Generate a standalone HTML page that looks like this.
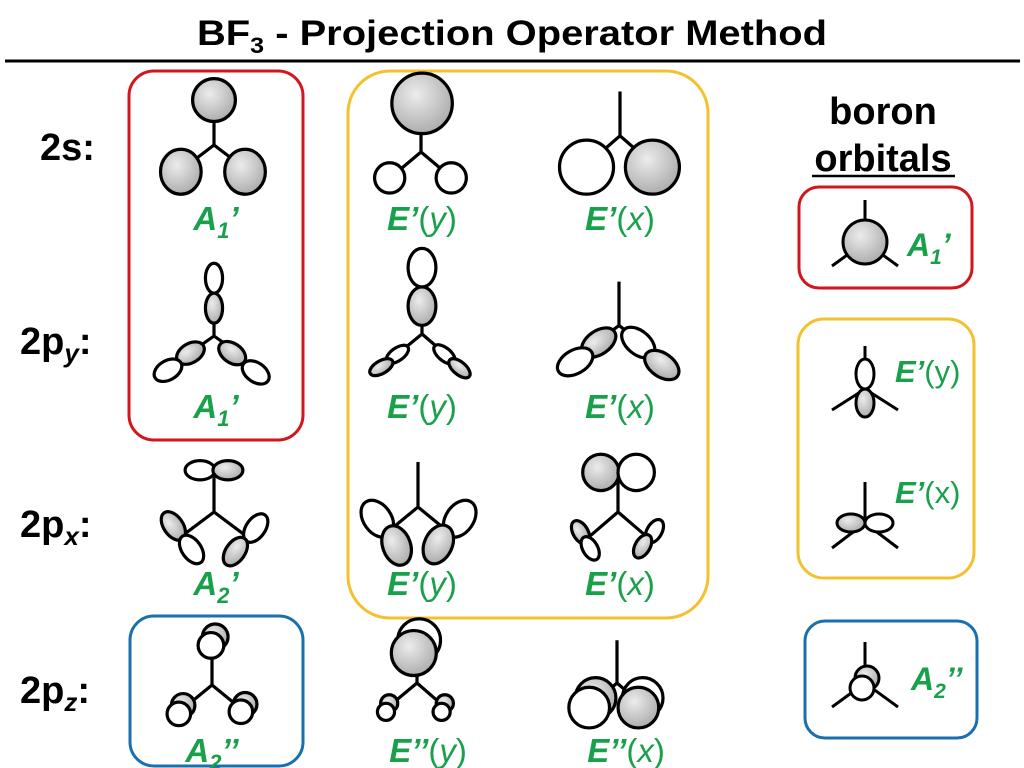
<!DOCTYPE html>
<html><head><meta charset="utf-8"><style>
html,body{margin:0;padding:0;background:#fff}
svg{display:block}
text{font-family:"Liberation Sans",Arial,sans-serif}
.g{fill:#19a04b;font-size:33px}
.b{font-weight:bold;font-style:italic}
.r{font-size:38px;font-weight:bold;fill:#000}
</style></head><body>
<svg width="1024" height="768" viewBox="0 0 1024 768" xmlns="http://www.w3.org/2000/svg">
<defs>
<radialGradient id="gr" cx="40%" cy="35%" r="70%">
<stop offset="0" stop-color="#ececec"/><stop offset="1" stop-color="#a9a9a9"/>
</radialGradient>
</defs>
<rect width="1024" height="768" fill="#fff"/>
<text x="512" y="45" text-anchor="middle" font-size="35" font-weight="bold" textLength="630" lengthAdjust="spacingAndGlyphs">BF<tspan font-size="22" dy="8">3</tspan><tspan dy="-8"> - Projection Operator Method</tspan></text>
<line x1="5" y1="61" x2="1020" y2="61" stroke="#000" stroke-width="3"/>

<text class="r" x="40" y="160">2s:</text>
<text class="r" x="20" y="354">2p<tspan font-style="italic" font-size="26" dy="8">y</tspan><tspan dy="-8">:</tspan></text>
<text class="r" x="20" y="537">2p<tspan font-style="italic" font-size="26" dy="8">x</tspan><tspan dy="-8">:</tspan></text>
<text class="r" x="20" y="703">2p<tspan font-style="italic" font-size="26" dy="8">z</tspan><tspan dy="-8">:</tspan></text>
<text class="r" x="883" y="124" text-anchor="middle">boron</text>
<text class="r" x="883" y="171" text-anchor="middle">orbitals</text>
<line x1="812" y1="176" x2="955" y2="176" stroke="#000" stroke-width="2.5"/>

<g fill="none" stroke-width="3">
<rect x="129" y="71" width="174" height="369" rx="25" stroke="#d3161e"/>
<rect x="348" y="71" width="360" height="547" rx="42" stroke="#f2c12e"/>
<rect x="130" y="616" width="173" height="150" rx="24" stroke="#1a6fae"/>
<rect x="799" y="187" width="173" height="101" rx="20" stroke="#d3161e"/>
<rect x="798" y="319" width="176" height="259" rx="26" stroke="#f2c12e"/>
<rect x="805" y="621" width="172" height="117" rx="20" stroke="#1a6fae"/>
</g>

<g stroke="#000" stroke-width="3" fill="none">
<!-- 2s A1' -->
<g transform="translate(9,0) translate(205,145) scale(1.07) translate(-205,-145)">
<path d="M205 145V122M205 145L188 158M205 145L222 158"/>
<circle cx="205" cy="103" r="20" fill="url(#gr)"/>
<ellipse cx="174" cy="170" rx="19" ry="21" fill="url(#gr)"/>
<ellipse cx="234" cy="170" rx="19" ry="21" fill="url(#gr)"/>
</g>
<!-- 2s E'(y) -->
<g transform="translate(30,0) translate(391,152) scale(1.08) translate(-391,-152)">
<path d="M391 152V135M391 152L372 168M391 152L410 168"/>
<circle cx="392" cy="107" r="28" fill="url(#gr)"/>
<circle cx="362" cy="176" r="14" fill="#fff"/>
<circle cx="419" cy="176" r="14" fill="#fff"/>
</g>
<!-- 2s E'(x) -->
<g transform="translate(50,0) translate(570,152) scale(1.08) translate(-570,-152)">
<path d="M570 137V96M570 137L555 150M570 137L585 150"/>
<circle cx="539" cy="166" r="25" fill="#fff"/>
<circle cx="600" cy="166" r="25" fill="url(#gr)"/>
</g>

<!-- 2py A1' -->
<g transform="translate(9,0) translate(205,336) scale(1.07) translate(-205,-336)">
<path d="M205 336V320M205 336L188 348M205 336L222 348"/>
<ellipse cx="205" cy="282" rx="8" ry="14" fill="#fff"/>
<ellipse cx="205" cy="310" rx="8" ry="14" fill="url(#gr)"/>
<ellipse cx="183" cy="352" rx="14" ry="9" transform="rotate(-30 183 352)" fill="url(#gr)"/>
<ellipse cx="162" cy="368" rx="14" ry="9" transform="rotate(-30 162 368)" fill="#fff"/>
<ellipse cx="222" cy="352" rx="14" ry="9" transform="rotate(35 222 352)" fill="url(#gr)"/>
<ellipse cx="244" cy="370" rx="14" ry="9" transform="rotate(35 244 370)" fill="#fff"/>
</g>
<!-- 2py E'(y) -->
<g transform="translate(30,0) translate(392,334) scale(1.07) translate(-392,-334)">
<path d="M392 334V326M392 334L370 352M392 334L413 352"/>
<ellipse cx="392" cy="272" rx="13" ry="18" fill="#fff"/>
<ellipse cx="392" cy="308" rx="13" ry="18" fill="url(#gr)"/>
<ellipse cx="369" cy="353" rx="12" ry="6" transform="rotate(-35 369 353)" fill="#fff"/>
<ellipse cx="354" cy="365" rx="12" ry="6" transform="rotate(-30 354 365)" fill="url(#gr)"/>
<ellipse cx="413" cy="353" rx="12" ry="6" transform="rotate(40 413 353)" fill="#fff"/>
<ellipse cx="427" cy="366" rx="12" ry="6" transform="rotate(40 427 366)" fill="url(#gr)"/>
</g>
<!-- 2py E'(x) -->
<g transform="translate(50,0) translate(569,334) scale(1.07) translate(-569,-334)">
<path d="M569 326V285M569 326L556 336M569 326L582 336"/>
<ellipse cx="550" cy="342" rx="18" ry="11" transform="rotate(-35 550 342)" fill="url(#gr)"/>
<ellipse cx="528" cy="360" rx="18" ry="11" transform="rotate(-30 528 360)" fill="#fff"/>
<ellipse cx="587" cy="342" rx="18" ry="11" transform="rotate(40 587 342)" fill="#fff"/>
<ellipse cx="609" cy="363" rx="18" ry="11" transform="rotate(35 609 363)" fill="url(#gr)"/>
</g>

<!-- 2px A2' -->
<g transform="translate(9,0) translate(205,512) scale(1.07) translate(-205,-512)">
<path d="M205 512V473M205 512L177 533M205 512L233 533"/>
<ellipse cx="192" cy="473" rx="14" ry="9" fill="#fff"/>
<ellipse cx="218" cy="473" rx="14" ry="9" fill="url(#gr)"/>
<ellipse cx="167" cy="525" rx="9" ry="15" transform="rotate(-35 167 525)" fill="url(#gr)"/>
<ellipse cx="184" cy="547" rx="9" ry="15" transform="rotate(-35 184 547)" fill="#fff"/>
<ellipse cx="244" cy="527" rx="9" ry="15" transform="rotate(35 244 527)" fill="#fff"/>
<ellipse cx="225" cy="549" rx="9" ry="15" transform="rotate(35 225 549)" fill="url(#gr)"/>
</g>
<!-- 2px E'(y) -->
<g transform="translate(30,0) translate(388,507) scale(1.07) translate(-388,-507)">
<path d="M388 507V465M388 507L360 530M388 507L416 530"/>
<ellipse cx="350" cy="518" rx="13" ry="19" transform="rotate(-35 350 518)" fill="#fff"/>
<ellipse cx="368" cy="543" rx="13" ry="19" transform="rotate(-20 368 543)" fill="url(#gr)"/>
<ellipse cx="427" cy="518" rx="13" ry="19" transform="rotate(35 427 518)" fill="#fff"/>
<ellipse cx="407" cy="542" rx="13" ry="19" transform="rotate(25 407 542)" fill="url(#gr)"/>
</g>
<!-- 2px E'(x) -->
<g transform="translate(50,0) translate(568,512) scale(1.07) translate(-568,-512)">
<path d="M568 512V478M568 512L540 536M568 512L596 536"/>
<circle cx="552" cy="475" r="17" fill="url(#gr)"/>
<circle cx="585" cy="475" r="17" fill="#fff"/>
<ellipse cx="533" cy="531" rx="7" ry="12" transform="rotate(-30 533 531)" fill="url(#gr)"/>
<ellipse cx="542" cy="546" rx="7" ry="12" transform="rotate(-30 542 546)" fill="#fff"/>
<ellipse cx="602" cy="530" rx="7" ry="12" transform="rotate(30 602 530)" fill="#fff"/>
<ellipse cx="591" cy="544" rx="7" ry="12" transform="rotate(30 591 544)" fill="url(#gr)"/>
</g>

<!-- 2pz A2'' -->
<g transform="translate(9,0) translate(203,685) scale(1.07) translate(-203,-685)">
<path d="M203 685V655M203 685L181 703M203 685L225 703"/>
<circle cx="206" cy="640" r="12" fill="url(#gr)"/>
<circle cx="202" cy="648" r="12" fill="#fff"/>
<circle cx="176" cy="704" r="11" fill="url(#gr)"/>
<circle cx="172" cy="712" r="11" fill="#fff"/>
<circle cx="234" cy="703" r="11" fill="url(#gr)"/>
<circle cx="230" cy="710" r="11" fill="#fff"/>
</g>
<!-- 2pz E''(y) -->
<g transform="translate(30,0) translate(387,683) scale(1.07) translate(-387,-683)">
<path d="M387 683V670M387 683L363 703M387 683L410 703"/>
<circle cx="389" cy="643" r="20" fill="#fff"/>
<circle cx="384" cy="655" r="21" fill="url(#gr)"/>
<circle cx="361" cy="702" r="8" fill="url(#gr)"/>
<circle cx="358" cy="710" r="8" fill="#fff"/>
<circle cx="413" cy="702" r="8" fill="url(#gr)"/>
<circle cx="410" cy="710" r="8" fill="#fff"/>
</g>
<!-- 2pz E''(x) -->
<g transform="translate(50,0) translate(567,683) scale(1.07) translate(-567,-683)">
<path d="M567 683V643M567 683L552 696M567 683L582 696"/>
<circle cx="547" cy="697" r="19" fill="url(#gr)"/>
<circle cx="541" cy="706" r="19" fill="#fff"/>
<circle cx="591" cy="697" r="19" fill="#fff"/>
<circle cx="587" cy="706" r="19" fill="url(#gr)"/>
</g>

<!-- right A1' -->
<path d="M865 242V200M865 242L832 266M865 242L898 266"/>
<circle cx="865" cy="242" r="22" fill="url(#gr)"/>
<!-- right E'(y) -->
<path d="M865 389V346M865 389L832 410M865 389L898 410"/>
<ellipse cx="865" cy="374" rx="9" ry="15" fill="#fff"/>
<ellipse cx="865" cy="403" rx="9" ry="14" fill="url(#gr)"/>
<!-- right E'(x) -->
<path d="M865 523V482M865 523L832 548M865 523L898 548"/>
<ellipse cx="851" cy="523" rx="14" ry="9" fill="url(#gr)"/>
<ellipse cx="879" cy="523" rx="14" ry="9" fill="#fff"/>
<!-- right A2'' -->
<path d="M865 683V642M865 683L832 707M865 683L898 707"/>
<circle cx="867" cy="678" r="12" fill="url(#gr)"/>
<circle cx="862" cy="688" r="12" fill="#fff"/>
</g>

<g class="g">
<text x="216" y="230" text-anchor="middle" class="b">A<tspan font-size="22" dy="8">1</tspan><tspan dy="-8">’</tspan></text>
<text x="422" y="230" text-anchor="middle"><tspan class="b">E’</tspan>(<tspan font-style="italic">y</tspan>)</text>
<text x="620" y="230" text-anchor="middle"><tspan class="b">E’</tspan>(<tspan font-style="italic">x</tspan>)</text>
<text x="216" y="418" text-anchor="middle" class="b">A<tspan font-size="22" dy="8">1</tspan><tspan dy="-8">’</tspan></text>
<text x="422" y="418" text-anchor="middle"><tspan class="b">E’</tspan>(<tspan font-style="italic">y</tspan>)</text>
<text x="620" y="418" text-anchor="middle"><tspan class="b">E’</tspan>(<tspan font-style="italic">x</tspan>)</text>
<text x="216" y="595" text-anchor="middle" class="b">A<tspan font-size="22" dy="8">2</tspan><tspan dy="-8">’</tspan></text>
<text x="422" y="595" text-anchor="middle"><tspan class="b">E’</tspan>(<tspan font-style="italic">y</tspan>)</text>
<text x="620" y="595" text-anchor="middle"><tspan class="b">E’</tspan>(<tspan font-style="italic">x</tspan>)</text>
<text x="212" y="762" text-anchor="middle" class="b">A<tspan font-size="22" dy="8">2</tspan><tspan dy="-8">’’</tspan></text>
<text x="428" y="762" text-anchor="middle"><tspan class="b">E’’</tspan>(<tspan font-style="italic">y</tspan>)</text>
<text x="626" y="762" text-anchor="middle"><tspan class="b">E’’</tspan>(<tspan font-style="italic">x</tspan>)</text>
<text x="907" y="256" font-size="32" class="b">A<tspan font-size="21" dy="8">1</tspan><tspan dy="-8">’</tspan></text>
<text x="895" y="382" font-size="31"><tspan class="b">E’</tspan>(y)</text>
<text x="895" y="503" font-size="31"><tspan class="b">E’</tspan>(x)</text>
<text x="911" y="690" font-size="32" class="b">A<tspan font-size="21" dy="8">2</tspan><tspan dy="-8">’’</tspan></text>
</g>
</svg>
</body></html>
